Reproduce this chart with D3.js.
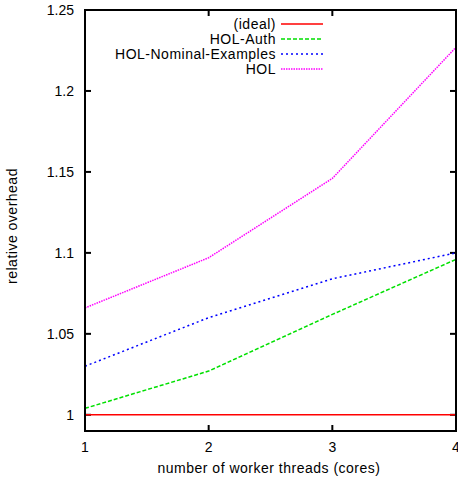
<!DOCTYPE html>
<html>
<head>
<meta charset="utf-8">
<script src="https://cdn.jsdelivr.net/npm/d3@7"></script>
<style>
  body { margin: 0; background: #fff; }
  svg { display: block; }
  text { font-family: "Liberation Sans", Arial, sans-serif; font-size: 14px; fill: #000; }
  .wide { letter-spacing: 0.5px; }
</style>
</head>
<body>
<script>
// data
var threads = [1, 2, 3, 4];
var ideal = [1, 1, 1, 1];
var holAuth = [1.004, 1.027, 1.062, 1.096];
var holNominal = [1.030, 1.060, 1.084, 1.100];
var hol = [1.066, 1.097, 1.146, 1.227];
var yTicks = [1, 1.05, 1.1, 1.15, 1.2, 1.25];

var series = [
  {name: "(ideal)", values: ideal, color: "#ff0000", dash: null},
  {name: "HOL-Auth", values: holAuth, color: "#00e000", dash: "4,2"},
  {name: "HOL-Nominal-Examples", values: holNominal, color: "#0000ff", dash: "2,3"},
  {name: "HOL", values: hol, color: "#ff00ff", dash: "1.5,1"}
];

var width = 458, height = 478;
var pLeft = 85, pRight = 456, pTop = 10, pBottom = 431;

var svg = d3.select("body").append("svg")
    .attr("width", width)
    .attr("height", height);

var x = d3.scaleLinear().domain([1, 4]).range([pLeft, pRight]);
var y = d3.scaleLinear().domain([0.99, 1.25]).range([pBottom, pTop]);

// tick marks (gnuplot style, inward, mirrored)
var tickLen = 6;
yTicks.forEach(function(t){
  svg.append("line").attr("x1", pLeft).attr("x2", pLeft + tickLen)
    .attr("y1", y(t)).attr("y2", y(t)).attr("stroke", "#000").attr("stroke-width", 2);
  svg.append("line").attr("x1", pRight).attr("x2", pRight - tickLen)
    .attr("y1", y(t)).attr("y2", y(t)).attr("stroke", "#000").attr("stroke-width", 2);
  svg.append("text").attr("x", pLeft - 11).attr("y", y(t) + 5)
    .attr("text-anchor", "end").text(t);
});
threads.forEach(function(t){
  svg.append("line").attr("x1", x(t)).attr("x2", x(t))
    .attr("y1", pBottom).attr("y2", pBottom - tickLen).attr("stroke", "#000").attr("stroke-width", 2);
  svg.append("line").attr("x1", x(t)).attr("x2", x(t))
    .attr("y1", pTop).attr("y2", pTop + tickLen).attr("stroke", "#000").attr("stroke-width", 2);
  svg.append("text").attr("x", x(t)).attr("y", pBottom + 21)
    .attr("text-anchor", "middle").text(t);
});

// lines
var line = d3.line()
  .x(function(d, i){ return x(threads[i]); })
  .y(function(d){ return y(d); });

series.forEach(function(s){
  svg.append("path")
    .attr("d", line(s.values))
    .attr("fill", "none")
    .attr("stroke", s.color)
    .attr("stroke-width", 1.5)
    .attr("stroke-dasharray", s.dash);
});

// frame
svg.append("rect")
  .attr("x", pLeft).attr("y", pTop)
  .attr("width", pRight - pLeft).attr("height", pBottom - pTop)
  .attr("fill", "none").attr("stroke", "#000").attr("stroke-width", 2);

// legend
series.forEach(function(s, i){
  var ly = 24 + i * 15;
  svg.append("text").attr("class", "wide").attr("x", 276).attr("y", ly + 5)
    .attr("text-anchor", "end").text(s.name);
  svg.append("line").attr("x1", 281).attr("x2", 323)
    .attr("y1", ly).attr("y2", ly)
    .attr("stroke", s.color).attr("stroke-width", 1.5)
    .attr("stroke-dasharray", s.dash);
});

// axis labels
svg.append("text").attr("class", "wide").attr("x", 269).attr("y", 473)
  .attr("text-anchor", "middle").text("number of worker threads (cores)");
svg.append("text").attr("class", "wide")
  .attr("transform", "translate(17,226) rotate(-90)")
  .attr("text-anchor", "middle").text("relative overhead");
</script>
</body>
</html>
